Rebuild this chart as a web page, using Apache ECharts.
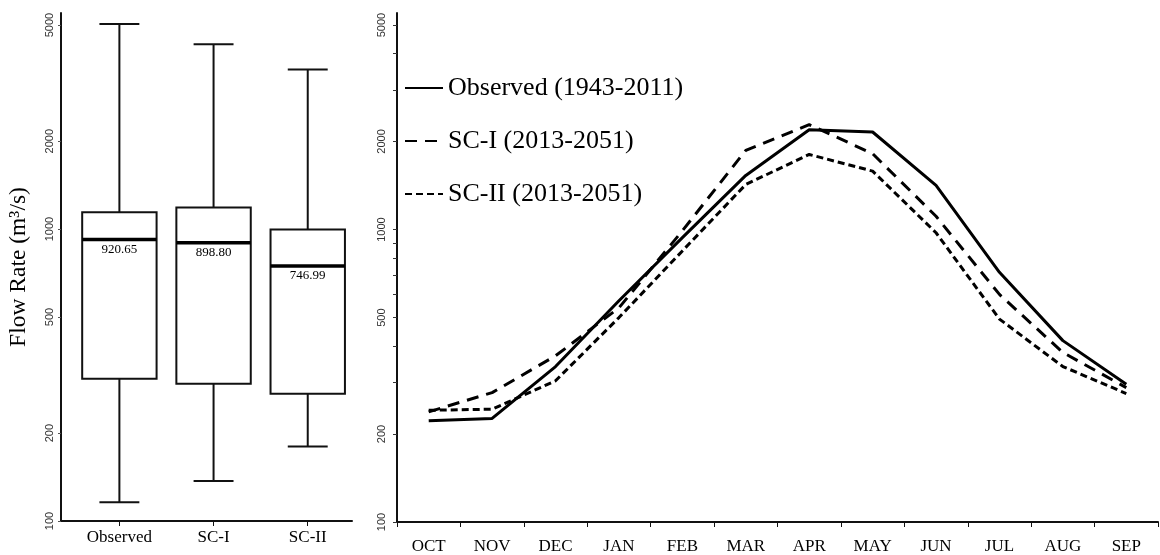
<!DOCTYPE html>
<html>
<head>
<meta charset="utf-8">
<script src="https://cdn.jsdelivr.net/npm/echarts@6/dist/echarts.min.js"></script>
<style>
html,body{margin:0;padding:0;background:#fff;}
#chart{width:1160px;height:555px;}
</style>
</head>
<body>
<div id="chart"></div>
<script>
// ---- data ----
var boxCategories = ['Observed', 'SC-I', 'SC-II'];
var boxMin    = [116, 137, 180];
var boxQ1     = [307, 295, 273];
var boxMedian = [920.65, 898.80, 746.99];
var boxQ3     = [1143, 1185, 997];
var boxMax    = [5040, 4300, 3520];

var months = ['OCT','NOV','DEC','JAN','FEB','MAR','APR','MAY','JUN','JUL','AUG','SEP'];
var observed = [222, 226, 340, 571, 938, 1531, 2195, 2155, 1415, 714, 417, 296];
var scI      = [238, 277, 370, 540, 990, 1865, 2284, 1817, 1110, 600, 380, 288];
var scII     = [241, 243, 304, 500, 845, 1426, 1806, 1584, 975, 494, 340, 275];

var seriesNames = ['Observed (1943-2011)', 'SC-I (2013-2051)', 'SC-II (2013-2051)'];
var yLabelValues = [100, 200, 500, 1000, 2000, 5000];
var yMinorTicks = [100,200,300,400,500,600,700,800,900,1000,2000,3000,4000,5000];

// ---- chart ----
var serif = "'Liberation Serif', 'Times New Roman', serif";
var sans = "'Liberation Sans', Arial, sans-serif";
var boxData = boxCategories.map(function (c, i) {
  return [i, boxMin[i], boxQ1[i], boxMedian[i], boxQ3[i], boxMax[i]];
});
function plainNum(v) { return String(Math.round(v)); }

var chart = echarts.init(document.getElementById('chart'), null, {renderer: 'canvas'});

var axisLineStyle = {color: '#111', width: 2};

var option = {
  backgroundColor: '#fff',
  animation: false,
  grid: [
    {left: 61, right: 808, top: 13, bottom: 34, containLabel: false},
    {left: 397, right: 2, top: 13, bottom: 33, containLabel: false}
  ],
  xAxis: [
    {
      type: 'value', gridIndex: 0, min: -0.62, max: 2.47,
      axisLine: {show: true, onZero: false, lineStyle: axisLineStyle},
      axisTick: {show: true, length: 5, lineStyle: {color: '#111', width: 1}, customValues: [0, 1, 2]},
      axisLabel: {
        customValues: [0, 1, 2],
        formatter: function (v) { return boxCategories[Math.round(v)]; },
        fontFamily: serif, fontSize: 17, color: '#000', margin: 8
      },
      splitLine: {show: false}
    },
    {
      type: 'category', gridIndex: 1, data: months, boundaryGap: true,
      axisLine: {show: true, onZero: false, lineStyle: axisLineStyle},
      axisTick: {show: true, length: 5, lineStyle: {color: '#111', width: 1}},
      axisLabel: {fontFamily: serif, fontSize: 17, color: '#000', margin: 16, interval: 0},
      splitLine: {show: false}
    }
  ],
  yAxis: [
    {
      type: 'log', gridIndex: 0, min: 100, max: 5500, logBase: 10,
      name: 'Flow Rate (m\u00B3/s)', nameLocation: 'middle', nameGap: 30, nameRotate: 90,
      nameTextStyle: {fontFamily: serif, fontSize: 23.5, color: '#000'},
      axisLine: {show: true, onZero: false, lineStyle: axisLineStyle},
      axisTick: {show: true, length: 3, lineStyle: {color: '#555', width: 1}, customValues: yLabelValues},
      axisLabel: {customValues: yLabelValues, formatter: plainNum, rotate: 90, fontFamily: sans, fontSize: 11, color: '#333', margin: 6},
      splitLine: {show: false}
    },
    {
      type: 'log', gridIndex: 1, min: 100, max: 5500, logBase: 10,
      axisLine: {show: true, onZero: false, lineStyle: axisLineStyle},
      axisTick: {show: true, length: 4, lineStyle: {color: '#333', width: 1}, customValues: yMinorTicks},
      axisLabel: {customValues: yLabelValues, formatter: plainNum, rotate: 90, fontFamily: sans, fontSize: 11, color: '#333', margin: 10},
      splitLine: {show: false}
    }
  ],
  legend: {
    data: seriesNames,
    orient: 'vertical',
    left: 404, top: 74, padding: 0,
    itemWidth: 38, itemHeight: 14, itemGap: 25,
    itemStyle: {opacity: 0, color: 'transparent', borderWidth: 0},
    textStyle: {fontFamily: serif, fontSize: 26, color: '#000', lineHeight: 28},
    inactiveColor: '#000'
  },
  series: [
    {
      type: 'custom', xAxisIndex: 0, yAxisIndex: 0,
      data: boxData,
      encode: {x: 0, y: [1, 2, 3, 4, 5]},
      renderItem: function (params, api) {
        var i = api.value(0);
        var pMin = api.coord([i, api.value(1)]);
        var pQ1 = api.coord([i, api.value(2)]);
        var pMed = api.coord([i, api.value(3)]);
        var pQ3 = api.coord([i, api.value(4)]);
        var pMax = api.coord([i, api.value(5)]);
        var band = api.coord([i + 1, api.value(3)])[0] - pMed[0];
        var hw = band * 0.395;
        var cw = band * 0.212;
        var x = pMed[0];
        var st = {stroke: '#111', lineWidth: 2, fill: null};
        return {
          type: 'group',
          children: [
            {type: 'line', shape: {x1: x, y1: pMax[1], x2: x, y2: pQ3[1]}, style: st},
            {type: 'line', shape: {x1: x, y1: pQ1[1], x2: x, y2: pMin[1]}, style: st},
            {type: 'line', shape: {x1: x - cw, y1: pMax[1], x2: x + cw, y2: pMax[1]}, style: st},
            {type: 'line', shape: {x1: x - cw, y1: pMin[1], x2: x + cw, y2: pMin[1]}, style: st},
            {type: 'rect', shape: {x: x - hw, y: pQ3[1], width: 2 * hw, height: pQ1[1] - pQ3[1]},
              style: {stroke: '#111', lineWidth: 2, fill: '#fff'}},
            {type: 'line', shape: {x1: x - hw, y1: pMed[1], x2: x + hw, y2: pMed[1]},
              style: {stroke: '#000', lineWidth: 3.5}},
            {type: 'text', x: x, y: pMed[1] + 3,
              style: {text: api.value(3).toFixed(2), fill: '#000', font: '13px ' + serif,
                align: 'center', verticalAlign: 'top'}}
          ]
        };
      }
    },
    {
      name: seriesNames[0], type: 'line', xAxisIndex: 1, yAxisIndex: 1, data: observed,
      symbol: 'none', lineStyle: {color: '#000', width: 3, type: 'solid'}, itemStyle: {color: '#000'}
    },
    {
      name: seriesNames[1], type: 'line', xAxisIndex: 1, yAxisIndex: 1, data: scI,
      symbol: 'none', lineStyle: {color: '#000', width: 3, type: [12, 8]}, itemStyle: {color: '#000'}
    },
    {
      name: seriesNames[2], type: 'line', xAxisIndex: 1, yAxisIndex: 1, data: scII,
      symbol: 'none', lineStyle: {color: '#000', width: 3, type: [7, 4]}, itemStyle: {color: '#000'}
    }
  ]
};
chart.setOption(option);
</script>
</body>
</html>
